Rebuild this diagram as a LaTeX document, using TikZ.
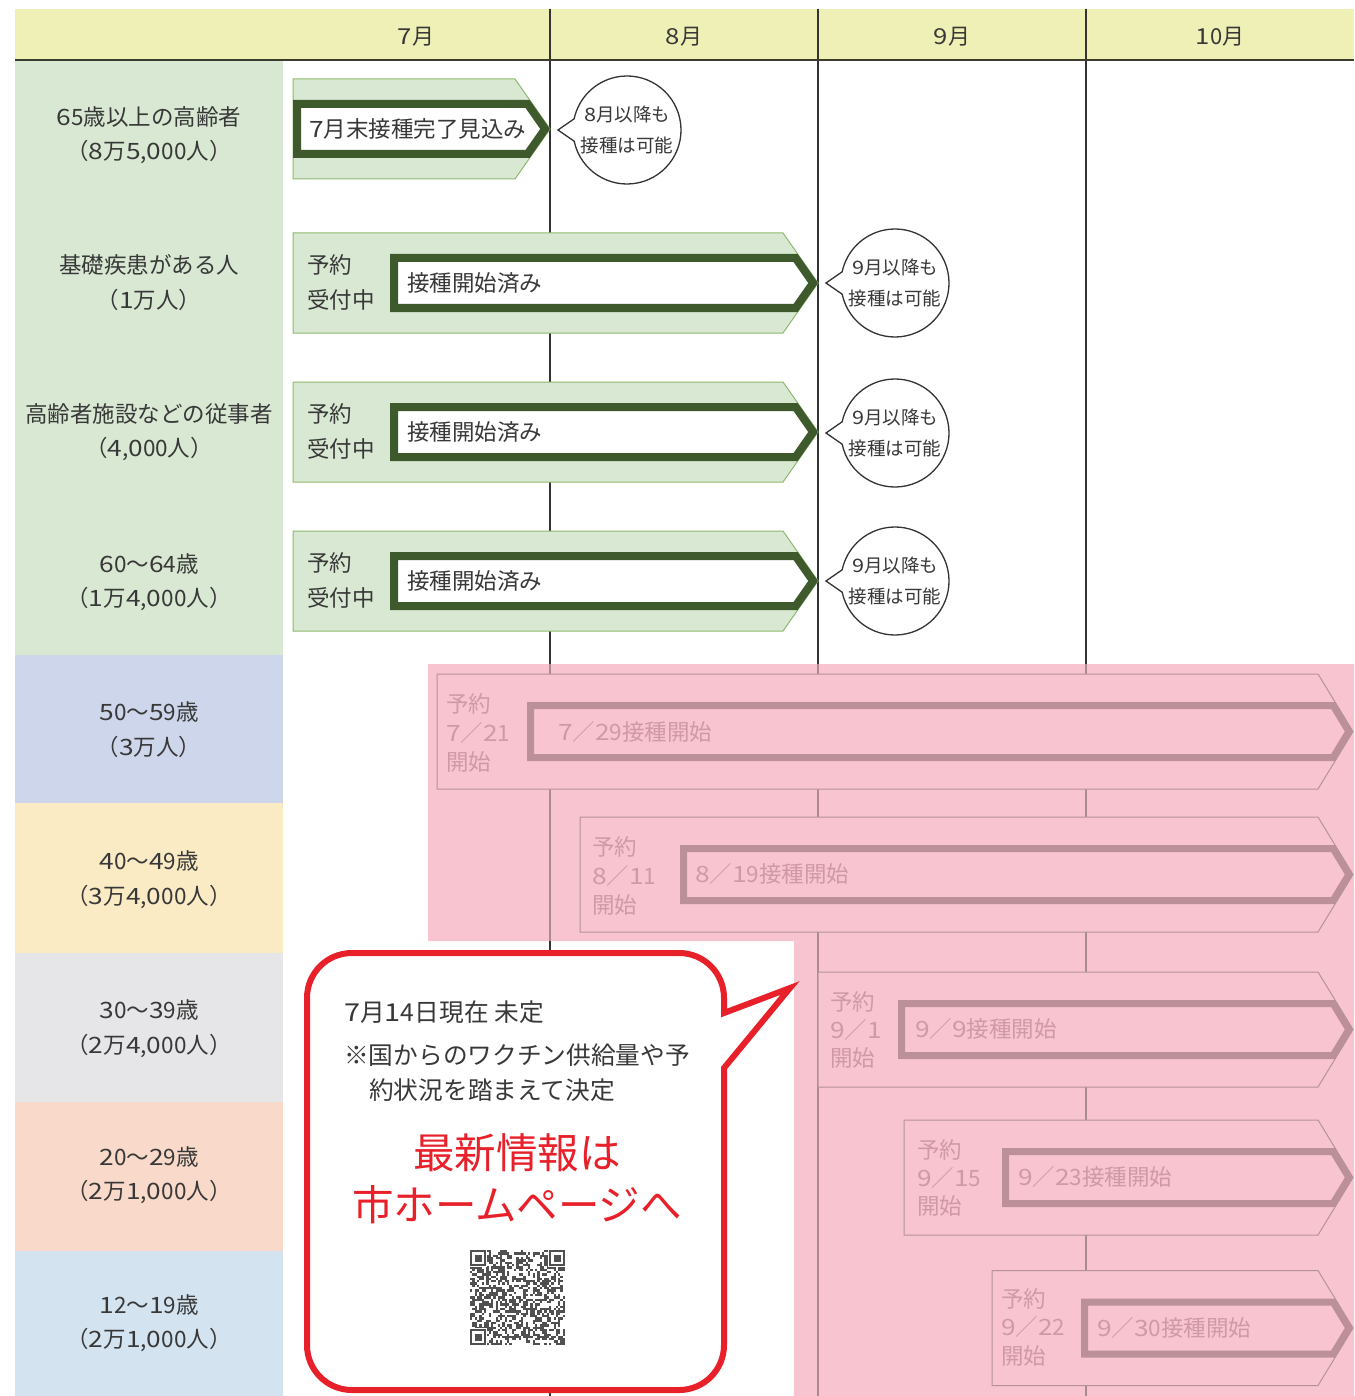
\documentclass[tikz,border=0pt]{standalone}
\usepackage{fontspec}
\setmainfont{Noto Sans CJK JP}
\newfontfamily\dgfont{Noto Sans CJK JP}[FakeStretch=1.17]
\XeTeXinterchartokenstate=1
\newXeTeXintercharclass\dgclass
\XeTeXcharclass`\0=\dgclass \XeTeXcharclass`\1=\dgclass \XeTeXcharclass`\2=\dgclass
\XeTeXcharclass`\3=\dgclass \XeTeXcharclass`\4=\dgclass \XeTeXcharclass`\5=\dgclass
\XeTeXcharclass`\6=\dgclass \XeTeXcharclass`\7=\dgclass \XeTeXcharclass`\8=\dgclass
\XeTeXcharclass`\9=\dgclass
\XeTeXinterchartoks 0 \dgclass = {\dgfont}
\XeTeXinterchartoks 1 \dgclass = {\dgfont}
\XeTeXinterchartoks 2 \dgclass = {\dgfont}
\XeTeXinterchartoks 3 \dgclass = {\dgfont}
\XeTeXinterchartoks 4095 \dgclass = {\dgfont}
\XeTeXinterchartoks \dgclass 0 = {\rmfamily}
\XeTeXinterchartoks \dgclass 1 = {\rmfamily}
\XeTeXinterchartoks \dgclass 2 = {\rmfamily}
\XeTeXinterchartoks \dgclass 3 = {\rmfamily}
\XeTeXinterchartoks \dgclass 4095 = {\rmfamily}
\definecolor{hdrY}{HTML}{EFF0B5}
\definecolor{hdrL}{HTML}{3B3B2E}
\definecolor{grnBg}{HTML}{D9E8D3}
\definecolor{gridC}{HTML}{333333}
\definecolor{gridP}{HTML}{A98A91}
\definecolor{gOutL}{HTML}{8DB96E}
\definecolor{gBand}{HTML}{3E5A2D}
\definecolor{pinkBg}{HTML}{F8C4CF}
\definecolor{pOutL}{HTML}{B5929A}
\definecolor{pBand}{HTML}{BB9098}
\definecolor{pTxt}{HTML}{CF9AA6}
\definecolor{rowB}{HTML}{CDD6EA}
\definecolor{rowC}{HTML}{FAEBC5}
\definecolor{rowG}{HTML}{E6E6E8}
\definecolor{rowP}{HTML}{F8D9CA}
\definecolor{rowL}{HTML}{D3E3F0}
\definecolor{txtC}{HTML}{383838}
\definecolor{redC}{HTML}{E8202A}
\definecolor{qrC}{HTML}{505050}
\tikzset{
  lab/.style={inner sep=0pt, text=txtC, font=\fontsize{22.5}{26}\selectfont},
  hdr/.style={inner sep=0pt, text=txtC, font=\fontsize{22}{26}\selectfont},
  gtxt/.style={inner sep=0pt, anchor=west, text=txtC, font=\fontsize{22.5}{26}\selectfont},
  ptxt/.style={inner sep=0pt, anchor=west, text=pTxt, font=\fontsize{22.5}{26}\selectfont},
  btxt/.style={inner sep=0pt, text=txtC, font=\fontsize{18.5}{22}\selectfont},
  ctxt/.style={inner sep=0pt, anchor=west, text=txtC, font=\fontsize{24.7}{28}\selectfont},
  rtxt/.style={inner sep=0pt, text=redC, font=\fontsize{41.5}{46}\selectfont},
  gout/.style={draw=gOutL, fill=grnBg, line width=1pt},
  gband/.style={draw=gBand, fill=white, line width=8pt, line join=miter},
  pout/.style={draw=pOutL, fill=pinkBg, line width=1pt},
  pband/.style={draw=pBand, fill=pinkBg, line width=7pt, line join=miter},
  bub/.style={draw=gridC, fill=white, line width=1.3pt, line join=miter},
  gridline/.style={draw=gridC, line width=1.3pt},
  gridpink/.style={draw=gridP, line width=1.1pt},
}
\newcommand\grArrow[4]{% outer left, mid y, inner left, tip x
  \draw[gout] (#1,#2-50) -- (#4-35,#2-50) -- (#4,#2) -- (#4-35,#2+50) -- (#1,#2+50) -- cycle;
  \draw[gband] (#3+4,#2-25) -- (#4-4.9-17.5,#2-25) -- (#4-4.9,#2) -- (#4-4.9-17.5,#2+25) -- (#3+4,#2+25) -- cycle;
}
\newcommand\pkArrow[3]{% outer left, mid y, inner left
  \draw[pout] (#1,#2-57.5) -- (1318,#2-57.5) -- (1353,#2) -- (1318,#2+57.5) -- (#1,#2+57.5) -- cycle;
  \draw[pband] (#3+3.5,#2-26) -- (1333.1,#2-26) -- (1348.9,#2) -- (1333.1,#2+26) -- (#3+3.5,#2+26) -- cycle;
}
\newcommand\speechBubble[5]{% name, cx, cy, line1, line2
  \draw[bub] (#2,#3) ++(192:54pt) arc[start angle=192, end angle=528, radius=54pt] -- (#2-69,#3) -- cycle;
  \node[btxt] (#1a) at (#2,#3-16) {#4};
  \node[btxt] (#1b) at (#2,#3+15) {#5};
}
\begin{document}
\begin{tikzpicture}[x=1pt, y=-1pt]
\useasboundingbox (0,0) rectangle (1354,1396);
\fill[white] (0,0) rectangle (1354,1396);
% header
\fill[hdrY] (15,9) rectangle (1354,60);
% left column
\fill[grnBg] (15,60) rectangle (283,655);
\fill[rowB] (15,655) rectangle (283,803);
\fill[rowC] (15,803) rectangle (283,953);
\fill[rowG] (15,953) rectangle (283,1102);
\fill[rowP] (15,1102) rectangle (283,1251);
\fill[rowL] (15,1251) rectangle (283,1396);
% pink zone
\fill[pinkBg] (428,664) -- (1354,664) -- (1354,1396) -- (794,1396) -- (794,941) -- (428,941) -- cycle;
% grid lines
\draw[gridline] (550,9) -- (550,664);
\draw[gridpink] (550,664) -- (550,941);
\draw[gridline] (550,941) -- (550,1396);
\draw[gridline] (818,9) -- (818,664);
\draw[gridpink] (818,664) -- (818,1396);
\draw[gridline] (1086,9) -- (1086,664);
\draw[gridpink] (1086,664) -- (1086,1396);
\draw[hdrL, line width=2.5pt] (15,60) -- (1354,60);
% header labels
\node[hdr] (m7) at (416,37) {7月};
\node[hdr] (m8) at (684,37) {8月};
\node[hdr] (m9) at (952,37) {9月};
\node[hdr] (m10) at (1220,37) {10月};
% row labels
\node[lab] (r1a) at (149,117) {65歳以上の高齢者};
\node[lab] (r1b) at (149,152) {（8万5,000人）};
\node[lab] (r2a) at (149,265) {基礎疾患がある人};
\node[lab] (r2b) at (149,300) {（1万人）};
\node[lab] (r3a) at (149,414) {高齢者施設などの従事者};
\node[lab] (r3b) at (149,449) {（4,000人）};
\node[lab] (r4a) at (149,564) {60～64歳};
\node[lab] (r4b) at (149,599) {（1万4,000人）};
\node[lab] (r5a) at (149,712) {50～59歳};
\node[lab] (r5b) at (149,747) {（3万人）};
\node[lab] (r6a) at (149,861) {40～49歳};
\node[lab] (r6b) at (149,897) {（3万4,000人）};
\node[lab] (r7a) at (149,1010) {30～39歳};
\node[lab] (r7b) at (149,1046) {（2万4,000人）};
\node[lab] (r8a) at (149,1157) {20～29歳};
\node[lab] (r8b) at (149,1192) {（2万1,000人）};
\node[lab] (r9a) at (149,1305) {12～19歳};
\node[lab] (r9b) at (149,1340) {（2万1,000人）};
% green arrows
\grArrow{293}{129}{293}{550}
\node[gtxt] (g1) at (309,129) {7月末接種完了見込み};
\grArrow{293}{283}{390}{818}
\node[gtxt] (g2a) at (307,265) {予約};
\node[gtxt] (g2b) at (307,300) {受付中};
\node[gtxt] (g2c) at (407,283) {接種開始済み};
\grArrow{293}{432}{390}{818}
\node[gtxt] (g3a) at (307,414) {予約};
\node[gtxt] (g3b) at (307,449) {受付中};
\node[gtxt] (g3c) at (407,432) {接種開始済み};
\grArrow{293}{581}{390}{818}
\node[gtxt] (g4a) at (307,563) {予約};
\node[gtxt] (g4b) at (307,598) {受付中};
\node[gtxt] (g4c) at (407,581) {接種開始済み};
% bubbles
\speechBubble{b1}{627}{130}{8月以降も}{接種は可能}
\speechBubble{b2}{895}{283}{9月以降も}{接種は可能}
\speechBubble{b3}{895}{433}{9月以降も}{接種は可能}
\speechBubble{b4}{895}{581}{9月以降も}{接種は可能}
% pink arrows
\pkArrow{437}{731.5}{527}
\node[ptxt] (p5a) at (446,704) {予約};
\node[ptxt] (p5b) at (446,733) {7／21};
\node[ptxt] (p5c) at (446,762) {開始};
\node[ptxt] (p5d) at (558,732) {7／29接種開始};
\pkArrow{580}{874.5}{680}
\node[ptxt] (p6a) at (592,847) {予約};
\node[ptxt] (p6b) at (592,876) {8／11};
\node[ptxt] (p6c) at (592,905) {開始};
\node[ptxt] (p6d) at (695,874) {8／19接種開始};
\pkArrow{818}{1029.5}{898}
\node[ptxt] (p7a) at (830,1002) {予約};
\node[ptxt] (p7b) at (830,1030) {9／1};
\node[ptxt] (p7c) at (830,1058) {開始};
\node[ptxt] (p7d) at (915,1029) {9／9接種開始};
\pkArrow{904}{1177.5}{1002}
\node[ptxt] (p8a) at (917,1150) {予約};
\node[ptxt] (p8b) at (917,1178) {9／15};
\node[ptxt] (p8c) at (917,1206) {開始};
\node[ptxt] (p8d) at (1018,1177) {9／23接種開始};
\pkArrow{992}{1328}{1081}
\node[ptxt] (p9a) at (1001,1299) {予約};
\node[ptxt] (p9b) at (1001,1327) {9／22};
\node[ptxt] (p9c) at (1001,1356) {開始};
\node[ptxt] (p9d) at (1097,1328) {9／30接種開始};
% callout
\draw[redC, fill=white, line width=6pt, line join=miter]
  (724,1068) -- (724,1345) .. controls (724,1370) and (704,1390) .. (679,1390)
  -- (352,1390) .. controls (327,1390) and (307,1370) .. (307,1345)
  -- (307,998) .. controls (307,973) and (327,953) .. (352,953)
  -- (679,953) .. controls (704,953) and (724,973) .. (724,998)
  -- (724,1013) -- (790,988) -- cycle;
\node[ctxt] (c1) at (344,1012) {7月14日現在 未定};
\node[ctxt] (c2) at (344,1055) {※国からのワクチン供給量や予};
\node[ctxt] (c3) at (369,1090) {約状況を踏まえて決定};
\node[rtxt] (c4) at (517,1153) {最新情報は};
\node[rtxt] (c5) at (517,1205) {市ホームページへ};
% QR code
\pgfmathsetseed{20210714}
\foreach \i in {0,...,40}{\foreach \j in {0,...,40}{%
  \pgfmathtruncatemacro\qb{rnd>0.5 ? 1 : 0}%
  \ifnum\qb=1 \fill[qrC] (470+\i*2.32,1250+\j*2.32) rectangle ++(2.32,2.32);\fi
}}
\foreach \ox/\oy in {470/1250, 549.1/1250, 470/1329.1}{%
  \fill[white] (\ox-1,\oy-1) rectangle ++(18.2,18.2);
  \fill[qrC] (\ox,\oy) rectangle ++(16.24,16.24);
  \fill[white] (\ox+2.32,\oy+2.32) rectangle ++(11.6,11.6);
  \fill[qrC] (\ox+4.64,\oy+4.64) rectangle ++(6.96,6.96);
}
\end{tikzpicture}
\end{document}
